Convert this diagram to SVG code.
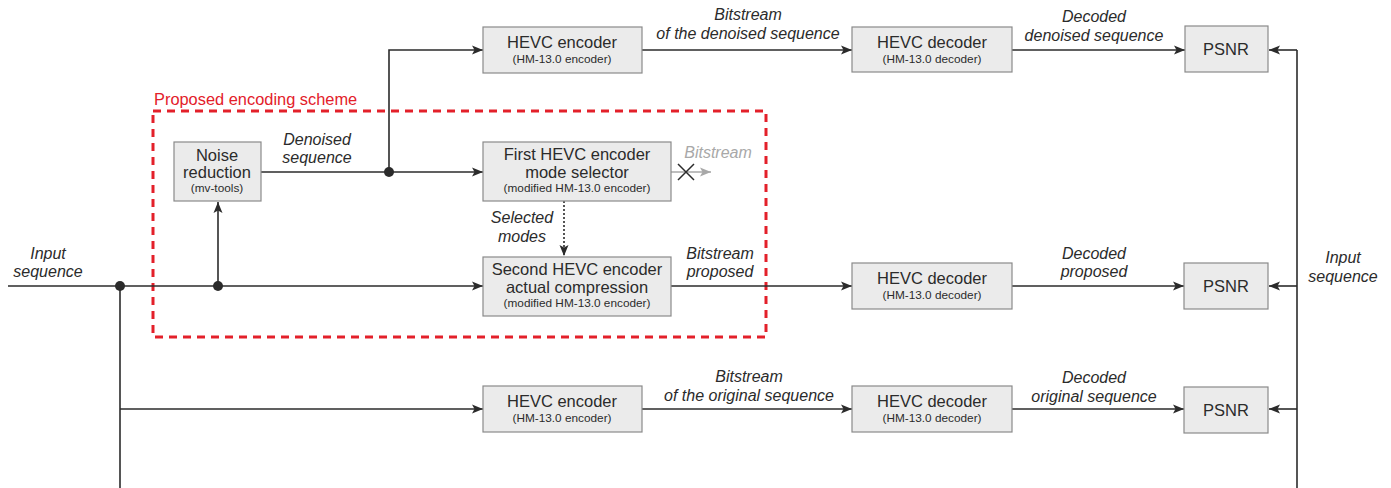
<svg xmlns="http://www.w3.org/2000/svg" width="1391" height="488" viewBox="0 0 1391 488">
<defs>
<marker id="ah" markerWidth="12" markerHeight="10" refX="11" refY="5" orient="auto" markerUnits="userSpaceOnUse"><path d="M0,0.5 L11,5 L0,9.5 L2.5,5 Z" fill="#2b2b2b"/></marker>
<marker id="ahg" markerWidth="12" markerHeight="10" refX="11" refY="5" orient="auto" markerUnits="userSpaceOnUse"><path d="M0,0.5 L11,5 L0,9.5 L2.5,5 Z" fill="#a8a8a8"/></marker>
</defs>
<style>
.box{fill:#ebebeb;stroke:#8a8a8a;stroke-width:1.2}
.t{font-family:"Liberation Sans",Arial,sans-serif;font-size:16.5px;fill:#2b2b2b;text-anchor:middle}
.s{font-family:"Liberation Sans",Arial,sans-serif;font-size:11.8px;fill:#2b2b2b;text-anchor:middle}
.l{font-family:"Liberation Sans",Arial,sans-serif;font-size:16px;font-style:italic;fill:#2b2b2b;text-anchor:middle}
.w{fill:none;stroke:#2b2b2b;stroke-width:1.6}
.a{marker-end:url(#ah)}
.d{fill:#2b2b2b}
</style>
<rect width="1391" height="488" fill="#fff"/>

<g id="scheme">
<rect x="153" y="111" width="613" height="226" fill="none" stroke="#e3202a" stroke-width="3" stroke-dasharray="8,6"/>
<text x="154" y="105" font-family="Liberation Sans,Arial,sans-serif" font-size="16.4" fill="#e3202a">Proposed encoding scheme</text>
</g>

<g id="connectors">
<path class="w" d="M8,286 H483" marker-end="url(#ah)"/>
<path class="w" d="M120,286 V488"/>
<path class="w a" d="M120,409 H483"/>
<path class="w a" d="M218,286 V202"/>
<path class="w a" d="M261,172 H483"/>
<path class="w a" d="M389,172 V50 H483"/>
<path class="w a" d="M642,50 H852"/>
<path class="w a" d="M1012,50 H1185"/>
<path class="w a" d="M671,286 H852"/>
<path class="w a" d="M1012,286 H1184"/>
<path class="w a" d="M642,409 H852"/>
<path class="w a" d="M1012,409 H1184"/>
<path class="w" d="M1297,488 V50"/>
<path class="w a" d="M1297,50 H1269"/>
<path class="w a" d="M1297,286 H1269"/>
<path class="w a" d="M1297,409 H1269"/>
<path d="M564,201 V256" fill="none" stroke="#2b2b2b" stroke-width="1.6" stroke-dasharray="2,2" marker-end="url(#ah)"/>
<path d="M671,172 H711" fill="none" stroke="#a8a8a8" stroke-width="1.6" marker-end="url(#ahg)"/>
<path d="M678,164 L694,180 M694,164 L678,180" stroke="#2b2b2b" stroke-width="1.5"/>
<circle class="d" cx="120" cy="286" r="5"/>
<circle class="d" cx="218" cy="286" r="5"/>
<circle class="d" cx="389" cy="172" r="5"/>
</g>

<g id="labels">
<text class="l" x="317" y="145">Denoised</text>
<text class="l" x="317" y="163">sequence</text>
<text class="l" x="748" y="20">Bitstream</text>
<text class="l" x="748" y="39">of the denoised sequence</text>
<text class="l" x="1094" y="22">Decoded</text>
<text class="l" x="1094" y="41">denoised sequence</text>
<text class="l" x="718" y="158" style="fill:#a8a8a8">Bitstream</text>
<text class="l" x="522" y="223">Selected</text>
<text class="l" x="522" y="242">modes</text>
<text class="l" x="720" y="259">Bitstream</text>
<text class="l" x="720" y="277">proposed</text>
<text class="l" x="1094" y="259">Decoded</text>
<text class="l" x="1094" y="277">proposed</text>
<text class="l" x="48" y="259">Input</text>
<text class="l" x="48" y="277">sequence</text>
<text class="l" x="1343" y="263">Input</text>
<text class="l" x="1343" y="282">sequence</text>
<text class="l" x="749" y="382">Bitstream</text>
<text class="l" x="749" y="401">of the original sequence</text>
<text class="l" x="1094" y="383">Decoded</text>
<text class="l" x="1094" y="402">original sequence</text>
</g>

<g id="enc-top"><rect class="box" x="483" y="27" width="159" height="46"/><text class="t" x="562" y="48">HEVC encoder</text><text class="s" x="562" y="63">(HM-13.0 encoder)</text></g>
<g id="dec-top"><rect class="box" x="852" y="27" width="160" height="45"/><text class="t" x="932" y="48">HEVC decoder</text><text class="s" x="932" y="63">(HM-13.0 decoder)</text></g>
<g id="psnr-top"><rect class="box" x="1185" y="26" width="83" height="46"/><text class="t" x="1226" y="55">PSNR</text></g>

<g id="noise"><rect class="box" x="174" y="142" width="87" height="59"/><text class="t" x="217" y="161">Noise</text><text class="t" x="217" y="178">reduction</text><text class="s" x="217" y="192">(mv-tools)</text></g>
<g id="enc-first"><rect class="box" x="483" y="142" width="188" height="59"/><text class="t" x="577" y="160">First HEVC encoder</text><text class="t" x="577" y="178">mode selector</text><text class="s" x="577" y="192">(modified HM-13.0 encoder)</text></g>
<g id="enc-second"><rect class="box" x="483" y="257" width="188" height="59"/><text class="t" x="577" y="275">Second HEVC encoder</text><text class="t" x="577" y="293">actual compression</text><text class="s" x="577" y="307">(modified HM-13.0 encoder)</text></g>
<g id="dec-mid"><rect class="box" x="852" y="263" width="160" height="46"/><text class="t" x="932" y="284">HEVC decoder</text><text class="s" x="932" y="299">(HM-13.0 decoder)</text></g>
<g id="psnr-mid"><rect class="box" x="1184" y="263" width="84" height="46"/><text class="t" x="1226" y="292">PSNR</text></g>

<g id="enc-bot"><rect class="box" x="483" y="386" width="159" height="46"/><text class="t" x="562" y="407">HEVC encoder</text><text class="s" x="562" y="422">(HM-13.0 encoder)</text></g>
<g id="dec-bot"><rect class="box" x="852" y="386" width="160" height="46"/><text class="t" x="932" y="407">HEVC decoder</text><text class="s" x="932" y="422">(HM-13.0 decoder)</text></g>
<g id="psnr-bot"><rect class="box" x="1184" y="387" width="84" height="46"/><text class="t" x="1226" y="416">PSNR</text></g>
</svg>
